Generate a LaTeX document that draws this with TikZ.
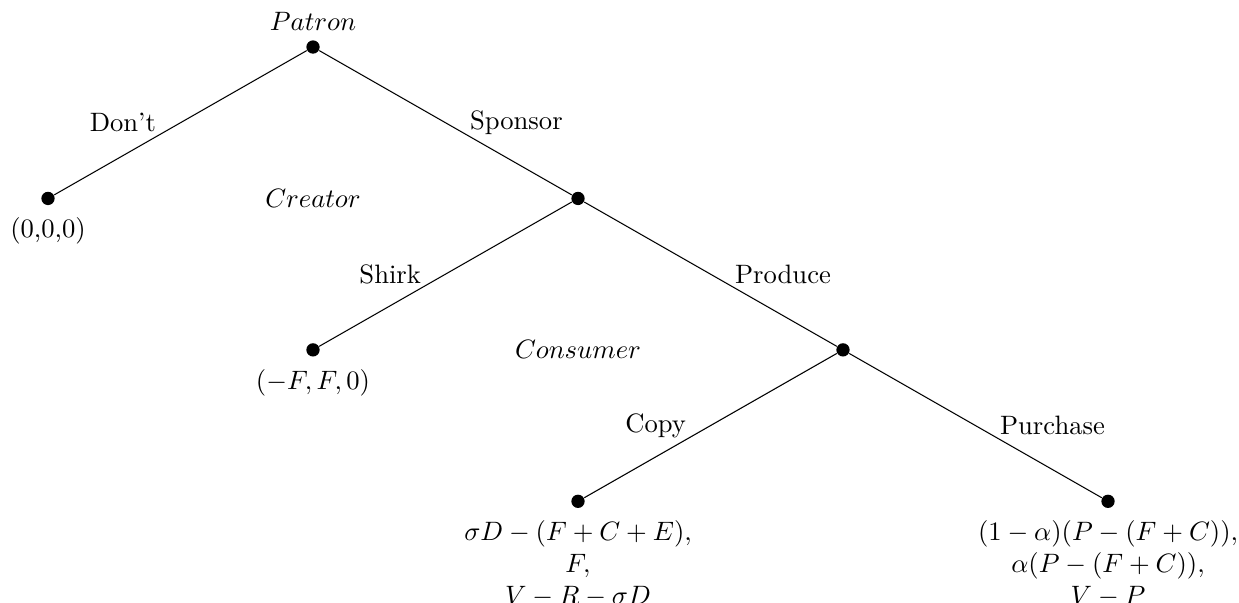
\documentclass[tikz,border=0pt]{standalone}
\usepackage{amsmath}
\usetikzlibrary{positioning}

\begin{document}
\begin{tikzpicture}[
  decision/.style={circle, fill=black, inner sep=0pt, minimum size=5pt},
  payoff/.style={align=center}
]
  \useasboundingbox (-4.134,-7.343) rectangle (12.230,0.621);

  % players' decision points
  \node[decision, label=above:$Patron$] (patron) at (0,0) {};
  \node[decision] (creator) at (3.5,-2) {};
  \node[decision] (consumer) at (7,-4) {};

  % outcomes
  \node[decision, label={[payoff, label distance=1pt]below:(0,0,0)}] (dont) at (-3.5,-2) {};
  \node[decision, label={[payoff, label distance=1pt]below:$(-F,F,0)$}] (shirk) at (0,-4) {};
  \node[decision, label={[payoff, label distance=1pt]below:{$\sigma D-(F+C+E),$\\$F,$\\$V-R-\sigma D$}}] (copy) at (3.5,-6) {};
  \node[decision, label={[payoff, label distance=1pt]below:{$(1-\alpha)(P-(F+C)),$\\$\alpha(P-(F+C)),$\\$V-P$}}] (purchase) at (10.5,-6) {};

  \node (creatorname) at ([xshift=-3.5cm]creator) {$Creator$};
  \node (consumername) at ([xshift=-3.5cm]consumer) {$Consumer$};

  \draw (patron) -- node[left=2mm] {Don't} (dont);
  \draw (patron) -- node[right=2mm] {Sponsor} (creator);
  \draw (creator) -- node[left=2mm] {Shirk} (shirk);
  \draw (creator) -- node[right=2mm] {Produce} (consumer);
  \draw (consumer) -- node[left=2mm] {Copy} (copy);
  \draw (consumer) -- node[right=2mm] {Purchase} (purchase);
\end{tikzpicture}
\end{document}
